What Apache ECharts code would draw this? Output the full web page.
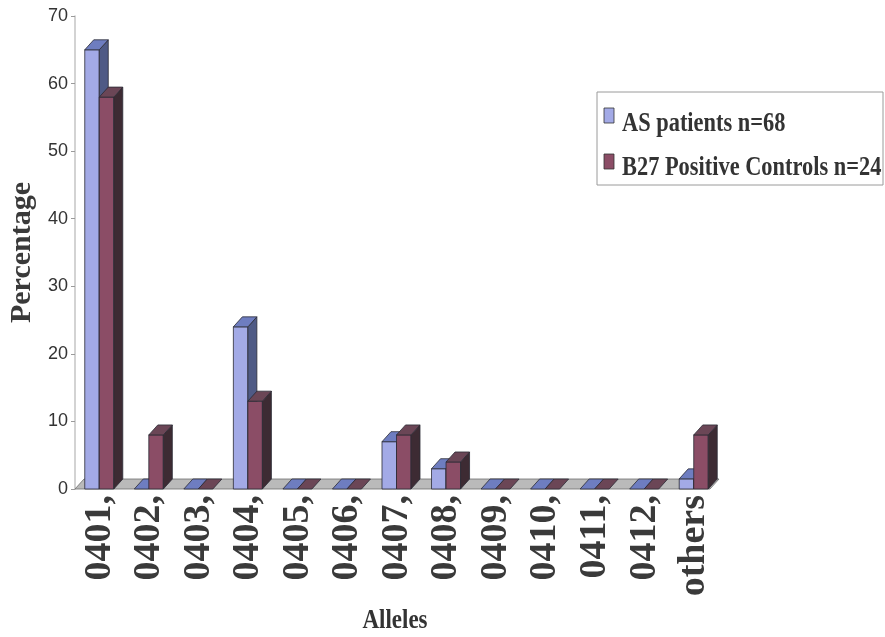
<!DOCTYPE html>
<html>
<head>
<meta charset="utf-8">
<script src="https://cdn.jsdelivr.net/npm/echarts@6/dist/echarts.min.js"></script>
<style>
  html, body { margin: 0; padding: 0; background: #fff; }
  #chart { width: 885px; height: 637px; }
</style>
</head>
<body>
<div id="chart"></div>
<script>
// Allele frequencies (%) for the two groups
const categories = ['0401,', '0402,', '0403,', '0404,', '0405,', '0406,', '0407,',
                    '0408,', '0409,', '0410,', '0411,', '0412,', 'others'];
const asPatients  = [65, 0, 0, 24, 0, 0, 7, 3, 0, 0, 0, 0, 1.5];
const b27Controls = [58, 8, 0, 13, 0, 0, 8, 4, 0, 0, 0, 0, 8];
const seriesNames = ['AS patients n=68', 'B27 Positive Controls n=24'];
const yTicks = [0, 10, 20, 30, 40, 50, 60, 70];

// Pseudo-3D depth offset of every box (px)
const DX = 9, DY = -10;

const palettes = [
  { front: '#a3aae6', top: '#6e7dc0', side: '#4f5a85' },
  { front: '#8b4d66', top: '#6b4656', side: '#3d2b33' }
];
const EDGE = '#2b2b35';
const SERIF = '"Liberation Serif", "Times New Roman", serif';

// Draws one box per category; slot 0 sits left of the category centre, slot 1 right of it
function boxRenderer(slot) {
  const pal = palettes[slot];
  return function (params, api) {
    const cat = api.value(0);
    const val = api.value(1);
    const base = api.coord([cat, 0]);
    const top = api.coord([cat, val]);
    const band = api.size([1, 0])[0];
    const w = band * 0.293;
    const x0 = slot === 0 ? base[0] - w - 0.5 : base[0] - 0.5;
    const x1 = x0 + w;
    const by = base[1], ty = top[1];
    const style = (fill) => ({ fill: fill, stroke: EDGE, lineWidth: 0.8 });
    const children = [];
    if (by - ty > 0.5) {
      children.push({ type: 'rect', shape: { x: x0, y: ty, width: w, height: by - ty }, style: style(pal.front) });
      children.push({ type: 'polygon', shape: { points: [[x1, ty], [x1 + DX, ty + DY], [x1 + DX, by + DY], [x1, by]] }, style: style(pal.side) });
    }
    children.push({ type: 'polygon', shape: { points: [[x0, ty], [x1, ty], [x1 + DX, ty + DY], [x0 + DX, ty + DY]] }, style: style(pal.top) });
    return { type: 'group', children: children };
  };
}

// Grey floor plate under the whole category range
function floorRenderer(params, api) {
  const band = api.size([1, 0])[0];
  const first = api.coord([0, 0]);
  const last = api.coord([categories.length - 1, 0]);
  const xl = first[0] - band / 2;
  const xr = last[0] + band / 2 - DX;
  const y = first[1];
  return {
    type: 'polygon',
    shape: { points: [[xl, y], [xr, y], [xr + DX, y + DY], [xl + DX, y + DY]] },
    style: { fill: '#bababa', stroke: '#6f6f6f', lineWidth: 0.8 }
  };
}

const chart = echarts.init(document.getElementById('chart'), null, { renderer: 'canvas' });

chart.setOption({
  backgroundColor: '#ffffff',
  animation: false,
  grid: { left: 75, right: 166, top: 16, bottom: 148, containLabel: false, outerBoundsMode: 'none' },
  xAxis: {
    type: 'category',
    data: categories,
    boundaryGap: true,
    axisLine: { show: false },
    axisTick: { show: false },
    axisLabel: {
      interval: 0,
      rotate: 90,
      margin: 6,
      color: '#3a3a3a',
      fontFamily: SERIF,
      fontWeight: 'bold',
      fontSize: 38
    }
  },
  yAxis: {
    type: 'value',
    min: yTicks[0],
    max: yTicks[yTicks.length - 1],
    interval: 10,
    name: 'Percentage',
    nameLocation: 'middle',
    nameRotate: 90,
    nameGap: 38,
    nameTextStyle: { fontFamily: SERIF, fontWeight: 'bold', fontSize: 30, color: '#3a3a3a' },
    splitLine: { show: false },
    axisLine: { show: true, lineStyle: { color: '#c4c4c4', width: 1.5 } },
    axisTick: { show: true, length: 4, lineStyle: { color: '#9a9a9a' } },
    axisLabel: { margin: 7, color: '#333', fontFamily: '"Liberation Sans", Arial, sans-serif', fontSize: 18 }
  },
  series: [
    {
      type: 'custom',
      name: 'floor',
      renderItem: floorRenderer,
      data: [[0, 0]],
      encode: { x: 0, y: 1 },
      clip: false,
      silent: true,
      z: 1
    },
    {
      type: 'custom',
      name: seriesNames[0],
      renderItem: boxRenderer(0),
      data: asPatients.map((v, i) => [i, v]),
      encode: { x: 0, y: 1 },
      clip: false,
      z: 2
    },
    {
      type: 'custom',
      name: seriesNames[1],
      renderItem: boxRenderer(1),
      data: b27Controls.map((v, i) => [i, v]),
      encode: { x: 0, y: 1 },
      clip: false,
      z: 3
    }
  ],
  graphic: [
    {
      type: 'group',
      children: [
        { type: 'rect', shape: { x: 597, y: 92, width: 286, height: 93 }, style: { fill: '#fff', stroke: '#9a9a9a', lineWidth: 1 } },
        { type: 'rect', shape: { x: 604, y: 108, width: 10, height: 15 }, style: { fill: palettes[0].front, stroke: '#333', lineWidth: 0.8 } },
        { type: 'text', x: 622, y: 124, scaleX: 0.8,
          style: { text: seriesNames[0], font: 'bold 28px ' + SERIF, fill: '#333', verticalAlign: 'middle', align: 'left' } },
        { type: 'rect', shape: { x: 604, y: 154, width: 10, height: 15 }, style: { fill: palettes[1].front, stroke: '#333', lineWidth: 0.8 } },
        { type: 'text', x: 622, y: 168, scaleX: 0.8,
          style: { text: seriesNames[1], font: 'bold 28px ' + SERIF, fill: '#333', verticalAlign: 'middle', align: 'left' } }
      ]
    },
    {
      type: 'text', x: 395, y: 621, scaleX: 0.82,
      style: { text: 'Alleles', font: 'bold 28px ' + SERIF, fill: '#333', align: 'center', verticalAlign: 'middle' }
    }
  ]
});
</script>
</body>
</html>
